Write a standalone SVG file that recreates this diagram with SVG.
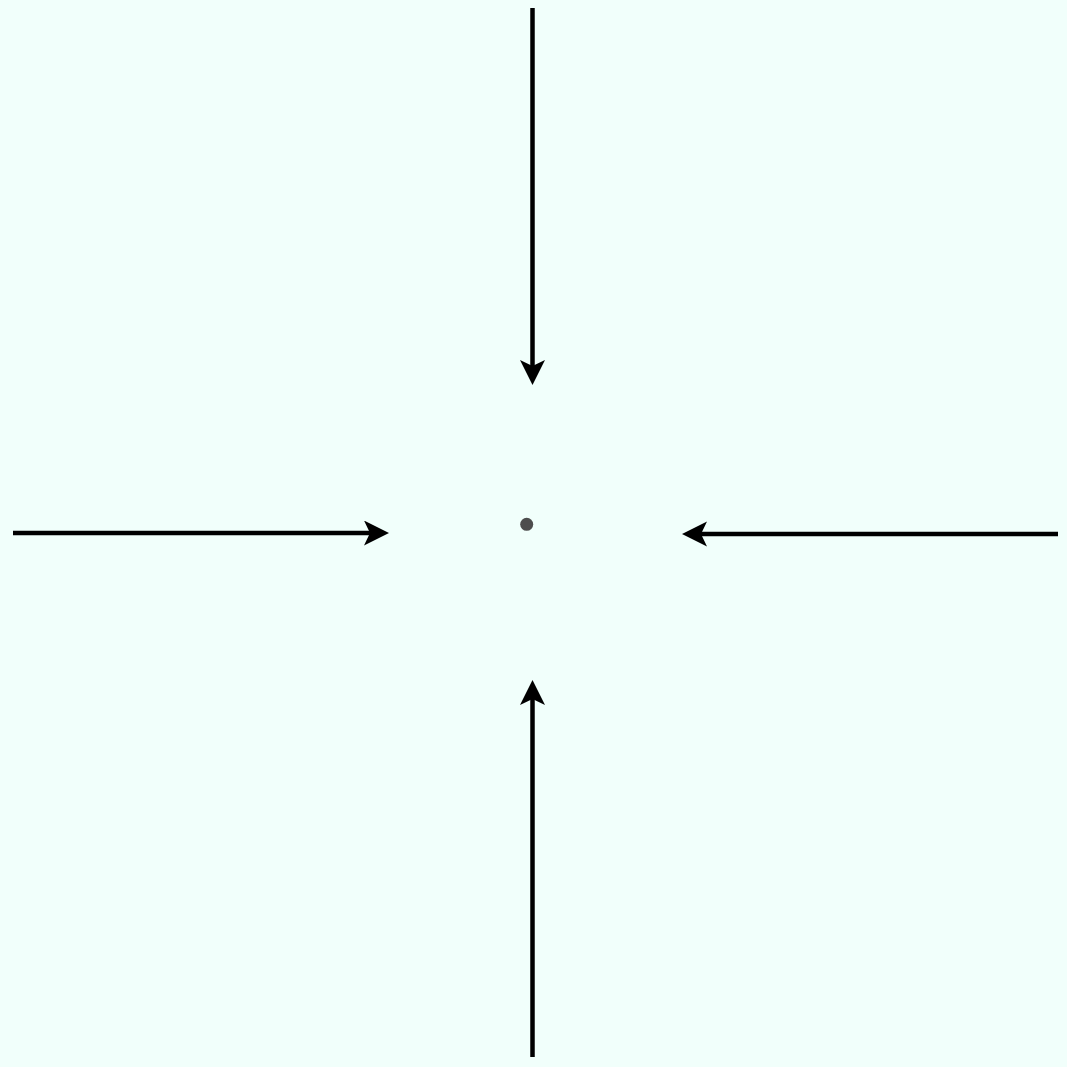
<svg xmlns="http://www.w3.org/2000/svg" width="1067" height="1067" viewBox="0 0 1067 1067">
<style>
.conn{stroke:#000;stroke-width:4.5;fill:none;marker-end:url(#ah)}
</style>
<defs>
<marker id="ah" markerUnits="userSpaceOnUse" markerWidth="26" markerHeight="26" refX="6" refY="12.5" orient="auto" viewBox="0 0 26 26">
<path d="M25,12.5 L0,0 L6,12.5 L0,25 Z" fill="#000"/>
</marker>
</defs>
<rect width="1067" height="1067" fill="#f1fffb"/>
<g id="center">
<circle cx="526.7" cy="524.3" r="6.5" fill="#4d4d4d"/>
</g>
<g id="connectors">
<line class="conn" x1="532.5" y1="8" x2="532.5" y2="366"/>
<line class="conn" x1="13" y1="533" x2="370" y2="533"/>
<line class="conn" x1="1058" y1="534" x2="701" y2="534"/>
<line class="conn" x1="532.5" y1="1057" x2="532.5" y2="699"/>
</g>
</svg>
